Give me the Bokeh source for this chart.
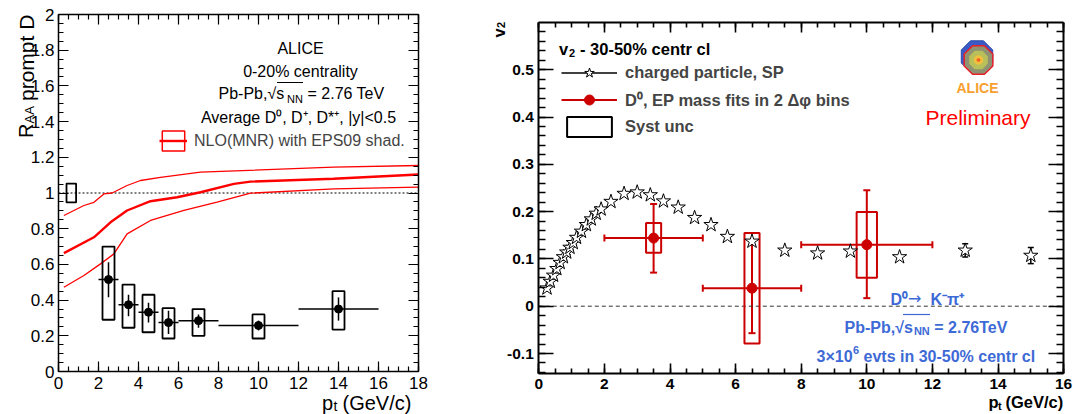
import math
from bokeh.plotting import figure
from bokeh.layouts import row
from bokeh.models import (Range1d, LinearAxis, SingleIntervalTicker, CustomJSTickFormatter,
                          Label, Whisker, TeeHead, ColumnDataSource, Legend, LegendItem, Arrow)
from bokeh.embed import file_html
from bokeh.resources import INLINE

NAN = float("nan")

# ---------------- Left panel: prompt D R_AA (0-20%) ----------------
d_pt = [2.5, 3.5, 4.5, 5.5, 7.0, 10.0, 14.0]
d_pt_lo = [2, 3, 4, 5, 6, 8, 12]
d_pt_hi = [3, 4, 5, 6, 8, 12, 16]
d_raa = [0.515, 0.374, 0.332, 0.274, 0.285, 0.258, 0.350]
d_stat_lo = [0.416, 0.310, 0.275, 0.210, 0.245, 0.230, 0.285]
d_stat_hi = [0.612, 0.430, 0.385, 0.340, 0.320, 0.285, 0.415]
d_syst_lo = [0.290, 0.245, 0.220, 0.185, 0.200, 0.185, 0.235]
d_syst_hi = [0.700, 0.487, 0.430, 0.355, 0.350, 0.320, 0.450]
norm_unc = 0.053

nlo_up_pt = [0.27, 1.27, 1.77, 2.27, 2.68, 3.43, 4.1, 5.1, 7.1, 13.75, 18.0]
nlo_up = [0.874, 0.930, 0.948, 0.995, 1.000, 1.042, 1.070, 1.088, 1.117, 1.145, 1.154]
nlo_c_pt = [0.27, 1.77, 2.6, 3.43, 4.6, 5.93, 7.1, 8.77, 9.6, 13.75, 18.0]
nlo_c = [0.663, 0.752, 0.836, 0.902, 0.954, 0.976, 1.004, 1.051, 1.064, 1.080, 1.104]
nlo_lo_pt = [0.27, 1.27, 2.1, 2.77, 3.43, 4.6, 6.27, 7.93, 9.6, 13.77, 18.0]
nlo_lo = [0.472, 0.538, 0.603, 0.659, 0.771, 0.846, 0.902, 0.949, 0.999, 1.023, 1.033]

# ---------------- Right panel: v2 30-50% ----------------
ch_pt = [0.25, 0.35, 0.45, 0.55, 0.65, 0.75, 0.85, 0.95, 1.05, 1.15, 1.3, 1.45, 1.6, 1.75, 1.9,
         2.2, 2.6, 3.0, 3.4, 3.8, 4.25, 4.75, 5.25, 5.75, 6.5, 7.5, 8.5, 9.5, 11.0, 13.0, 15.0]
ch_v2 = [0.038, 0.052, 0.065, 0.079, 0.092, 0.104, 0.114, 0.124, 0.134, 0.145, 0.158, 0.172, 0.184,
         0.196, 0.205, 0.221, 0.238, 0.241, 0.235, 0.222, 0.209, 0.187, 0.172, 0.147, 0.137, 0.118,
         0.112, 0.116, 0.104, 0.118, 0.107]
ch_err = [0, 0, 0, 0, 0, 0, 0, 0, 0, 0, 0, 0, 0, 0, 0, 0, 0, 0, 0, 0, 0, 0, 0, 0, 0, 0, 0, 0, 0,
          0.014, 0.017]

d0_pt = [3.5, 6.5, 10.0]
d0_pt_lo = [2.0, 5.0, 8.0]
d0_pt_hi = [5.0, 8.0, 12.0]
d0_v2 = [0.144, 0.038, 0.130]
d0_stat_lo = [0.071, -0.057, 0.017]
d0_stat_hi = [0.216, 0.139, 0.245]
d0_syst_lo = [0.113, -0.079, 0.060]
d0_syst_hi = [0.176, 0.155, 0.199]
d0_syst_halfwidth = [0.23, 0.23, 0.31]

# ---------------- styles ----------------
FONT = "Liberation Sans"
RED_D = "#cc0000"
RED_T = "#ff0000"
BLUE_T = "#3d6ad6"
W_TOTAL, H_TOTAL, SPLIT = 1073, 414, 430


def setup_axes(p, xb, yb, xint, xminor, yint, yminor, xtick, ytick, lw, size, style,
               xstand, ystand):
    """ROOT-like frame: four library axes pinned at the frame box, ticks pointing inside."""
    p.add_layout(LinearAxis(), "above")
    p.add_layout(LinearAxis(), "right")
    num = CustomJSTickFormatter(code="return String(Number(tick.toFixed(2)))")
    blank = CustomJSTickFormatter(code="return ''")
    xt = SingleIntervalTicker(interval=xint, num_minor_ticks=xminor)
    yt = SingleIntervalTicker(interval=yint, num_minor_ticks=yminor)
    groups = [(p.below, xt, xtick, True, xstand, yb[0], xb),
              (p.above, xt, xtick, False, 0, yb[1], xb),
              (p.left, yt, ytick, True, ystand, xb[0], yb),
              (p.right, yt, ytick, False, 0, xb[1], yb)]
    for axes, tk, (maj, mnr), primary, stand, loc, bnds in groups:
        for ax in axes:
            ax.fixed_location = loc
            ax.bounds = bnds
            ax.ticker = tk
            ax.axis_line_color = "black"
            ax.axis_line_width = lw
            ax.major_tick_in = maj
            ax.major_tick_out = 0
            ax.minor_tick_in = mnr
            ax.minor_tick_out = 0
            ax.major_tick_line_color = "black"
            ax.minor_tick_line_color = "black"
            ax.major_tick_line_width = lw * 0.8
            ax.minor_tick_line_width = lw * 0.8
            if primary:
                ax.formatter = num
                ax.major_label_text_font = FONT
                ax.major_label_text_font_size = f"{size}px"
                ax.major_label_text_font_style = style
                ax.major_label_text_color = "black"
                ax.major_label_standoff = stand
            else:
                ax.formatter = blank
                ax.major_label_text_font_size = "0px"
                ax.major_label_standoff = 0


def put(p, x, y, text, size, color="black", style="normal", align="left", angle=0.0, font=FONT):
    p.add_layout(Label(x=x, y=y, text=text, text_font=font, text_font_size=f"{size}px",
                       text_color=color, text_font_style=style, text_align=align,
                       text_baseline="alphabetic", angle=angle))


# ============ LEFT FIGURE (page x 0..430) ============
def lx(px):  # page pixel -> left data x
    return (px - 58.0) / 20.0


def ly(py):  # page pixel -> left data y
    return (371.0 - py) / 178.5


XB_L, YB_L = (0, 18), (0, 2)
pL = figure(width=SPLIT, height=H_TOTAL, x_range=Range1d(lx(0), lx(SPLIT)),
            y_range=Range1d(ly(H_TOTAL), ly(0)),
            min_border=0, min_border_left=0, min_border_right=0, min_border_top=0,
            min_border_bottom=0, output_backend="svg", toolbar_location=None)
pL.grid.visible = False
pL.outline_line_color = None
setup_axes(pL, XB_L, YB_L, 2, 4, 0.2, 4, (10, 5), (10, 5), 1.5, 17, "normal", 5, 4)

pL.segment(x0=[XB_L[0]], y0=[1.0], x1=[XB_L[1]], y1=[1.0], line_color="black", line_width=1,
           line_dash="2 2")

ul = pL.line(nlo_up_pt, nlo_up, line_color=RED_T, line_width=1.3)
cl = pL.line(nlo_c_pt, nlo_c, line_color=RED_T, line_width=2.4)
ll = pL.line(nlo_lo_pt, nlo_lo, line_color=RED_T, line_width=1.3)

NORM_X = (0.4, 0.88)
pL.quad(left=[NORM_X[0]], right=[NORM_X[1]], top=[1 + norm_unc], bottom=[1 - norm_unc],
        fill_color=None, line_color="black", line_width=1.8)

SYST_HW_L = 0.3
pL.quad(left=[x - SYST_HW_L for x in d_pt], right=[x + SYST_HW_L for x in d_pt],
        top=d_syst_hi, bottom=d_syst_lo, fill_color=None, line_color="black", line_width=1.8)
pL.segment(x0=d_pt_lo, y0=d_raa, x1=d_pt_hi, y1=d_raa, line_color="black", line_width=1.5)
pL.segment(x0=d_pt, y0=d_stat_lo, x1=d_pt, y1=d_stat_hi, line_color="black", line_width=1.5)
pL.scatter(d_pt, d_raa, marker="circle", size=8, fill_color="black", line_color="black")

nlo_box = pL.quad(left=[NAN], right=[NAN], top=[NAN], bottom=[NAN], fill_color=None,
                  line_color=RED_T, line_width=1.5)
legL = Legend(items=[LegendItem(label="NLO(MNR) with EPS09 shad.", renderers=[nlo_box, cl])],
              location=(159, 261), glyph_width=28, glyph_height=25, label_height=25,
              label_standoff=7, padding=0, margin=0, spacing=0,
              label_text_font=FONT, label_text_font_size="16px",
              border_line_color=None, background_fill_alpha=0)
pL.add_layout(legL)

put(pL, lx(300), ly(48.3), "ALICE", 16, align="center")
put(pL, lx(300), ly(70.7), "0-20% centrality", 16, align="center")
put(pL, lx(218), ly(93.3), "Pb-Pb,\u221as", 16)
put(pL, lx(286.5), ly(98), "NN", 11)
put(pL, lx(307), ly(93.3), "= 2.76 TeV", 16)
pL.add_layout(Arrow(end=None, x_start=lx(276.5), y_start=ly(82), x_end=lx(302.5), y_end=ly(82),
                    line_color="black", line_width=1))
put(pL, lx(298), ly(117), "Average D\u2070, D\u207a, D*\u207a, |y|<0.5", 16, align="center")

# axis titles
put(pL, lx(25.5), ly(137.5), "R", 20, angle=math.pi / 2)
put(pL, lx(28.5), ly(123), "AA", 13, angle=math.pi / 2)
put(pL, lx(25.5), ly(100.5), "prompt D", 21, angle=math.pi / 2)
put(pL, lx(321.5), ly(402), "p", 20)
put(pL, lx(333), ly(405.5), "t", 14)
put(pL, lx(342), ly(402), "(GeV/c)", 20)

# ============ RIGHT FIGURE (page x 430..1073) ============
R_SCALE = 32.8  # px per pt unit (0 at page 538.3)


def rx(px):  # page pixel -> right data x
    return (px - 538.3) / R_SCALE


def ry(py):  # page pixel -> right data y
    return (305.7 - py) / 473.0


XB_R, YB_R = (0, 16), (-0.142, 0.6)
pR = figure(width=W_TOTAL - SPLIT, height=H_TOTAL,
            x_range=Range1d(rx(SPLIT), rx(W_TOTAL)), y_range=Range1d(ry(H_TOTAL), ry(0)),
            min_border=0, min_border_left=0, min_border_right=0, min_border_top=0,
            min_border_bottom=0, output_backend="svg", toolbar_location=None)
pR.grid.visible = False
pR.outline_line_color = None
setup_axes(pR, XB_R, YB_R, 2, 4, 0.1, 5, (10, 5), (15, 7), 2, 15.5, "bold", 6, 5)

pR.segment(x0=[XB_R[0]], y0=[0.0], x1=[XB_R[1]], y1=[0.0], line_color="#333333", line_width=1,
           line_dash="4 3")

pR.quad(left=[x - w for x, w in zip(d0_pt, d0_syst_halfwidth)],
        right=[x + w for x, w in zip(d0_pt, d0_syst_halfwidth)],
        top=d0_syst_hi, bottom=d0_syst_lo, fill_color=None, line_color=RED_D, line_width=2)

ch_bar = [(x, v - e, v + e) for x, v, e in zip(ch_pt, ch_v2, ch_err) if e > 0]
ch_src = ColumnDataSource(dict(x=[b[0] for b in ch_bar], lo=[b[1] for b in ch_bar],
                               hi=[b[2] for b in ch_bar]))
pR.add_layout(Whisker(source=ch_src, base="x", lower="lo", upper="hi", dimension="height",
                      line_color="black", line_width=1.5,
                      upper_head=TeeHead(size=6, line_color="black", line_width=1.5),
                      lower_head=TeeHead(size=6, line_color="black", line_width=1.5)))

d0_src = ColumnDataSource(dict(x=d0_pt, y=d0_v2, xlo=d0_pt_lo, xhi=d0_pt_hi,
                               lo=d0_stat_lo, hi=d0_stat_hi))
pR.add_layout(Whisker(source=d0_src, base="x", lower="lo", upper="hi", dimension="height",
                      line_color=RED_D, line_width=2,
                      upper_head=TeeHead(size=7, line_color=RED_D, line_width=2),
                      lower_head=TeeHead(size=7, line_color=RED_D, line_width=2)))
pR.add_layout(Whisker(source=d0_src, base="y", lower="xlo", upper="xhi", dimension="width",
                      line_color=RED_D, line_width=2,
                      upper_head=TeeHead(size=7, line_color=RED_D, line_width=2),
                      lower_head=TeeHead(size=7, line_color=RED_D, line_width=2)))

stars = pR.scatter(ch_pt, ch_v2, marker="star", size=15, fill_color="white",
                   line_color="black", line_width=1)
dots = pR.scatter("x", "y", source=d0_src, marker="circle", size=10, fill_color=RED_D,
                  line_color=RED_D)

lk = pR.line([NAN], [NAN], line_color="black", line_width=1.5)
lr = pR.line([NAN], [NAN], line_color=RED_D, line_width=2)
bx = pR.quad(left=[NAN], right=[NAN], top=[NAN], bottom=[NAN], fill_color=None,
             line_color="black", line_width=2)
legR = Legend(items=[LegendItem(label="charged particle, SP", renderers=[lk, stars]),
                     LegendItem(label="D\u2070, EP mass fits in 2 \u0394\u03c6 bins", renderers=[lr, dots]),
                     LegendItem(label="Syst unc", renderers=[bx])],
              location=(131, 275), glyph_width=56, glyph_height=25, label_height=25,
              label_standoff=8, padding=0, margin=0, spacing=2,
              label_text_font=FONT, label_text_font_size="16.5px", label_text_font_style="bold",
              border_line_color=None, background_fill_alpha=0)
pR.add_layout(legR)

put(pR, rx(558.5), ry(48), "v", 16.5, style="bold")
put(pR, rx(568.5), ry(52.5), "2", 11, style="bold")
put(pR, rx(579.5), ry(48), "- 30-50% centr cl", 16.5, style="bold")

put(pR, rx(977.5), ry(117), "Preliminary", 21, color=RED_T, align="center")

# ALICE logo (decorative)
LOGO_C = (978.0, 59.5)


def octagon(cx, cy, r):
    angs = [math.radians(22.5 + 45 * k) for k in range(8)]
    return ([rx(cx + r * math.cos(a)) for a in angs], [ry(cy - r * math.sin(a)) for a in angs])


xs, ys = octagon(LOGO_C[0] - 1.5, LOGO_C[1] - 3.5, 17)
pR.patch(xs, ys, fill_color="#3a5bc7", line_color="#2c47a8", line_width=1)
xs, ys = octagon(LOGO_C[0], LOGO_C[1], 15.5)
pR.patch(xs, ys, fill_color="#8f9272", line_color="#e8202a", line_width=1.5)
xs, ys = octagon(LOGO_C[0], LOGO_C[1], 10)
pR.patch(xs, ys, fill_color="#b9c05a", line_color=None)
xs, ys = octagon(LOGO_C[0], LOGO_C[1], 5)
pR.patch(xs, ys, fill_color="#f0c040", line_color=None)
xs, ys = octagon(LOGO_C[0], LOGO_C[1], 2)
pR.patch(xs, ys, fill_color="#f06020", line_color=None)
put(pR, rx(977), ry(87), "ALICE", 14, color="#f7a030", style="bold", align="center")

# blue annotation text
put(pR, rx(890), ry(299), "D\u2070", 16, color=BLUE_T, style="bold")
put(pR, rx(907.5), ry(298), "\u2192", 16, color=BLUE_T, font="DejaVu Sans")
put(pR, rx(930), ry(299), "K\u207b\u03c0\u207a", 16, color=BLUE_T, style="bold")
put(pR, rx(844), ry(326.7), "Pb-Pb,\u221as", 16, color=BLUE_T, style="bold")
put(pR, rx(913.4), ry(330.5), "NN", 11, color=BLUE_T, style="bold")
put(pR, rx(933.8), ry(326.7), "= 2.76TeV", 16, color=BLUE_T, style="bold")
pR.add_layout(Arrow(end=None, x_start=rx(902.5), y_start=ry(314), x_end=rx(929.5),
                    y_end=ry(314), line_color=BLUE_T, line_width=1.2))
put(pR, rx(816), ry(356), "3\u00d710", 16, color=BLUE_T, style="bold")
put(pR, rx(852.5), ry(349), "6", 11, color=BLUE_T, style="bold")
put(pR, rx(863), ry(356), "evts in 30-50% centr cl", 16, color=BLUE_T, style="bold")

# axis titles
put(pR, rx(498.5), ry(37), "v", 16.5, style="bold", angle=math.pi / 2)
put(pR, rx(500), ry(27.5), "2", 11, style="bold", angle=math.pi / 2)
put(pR, rx(988), ry(401), "p", 16.5, style="bold")
put(pR, rx(997.5), ry(405), "t", 11, style="bold")
put(pR, rx(1005), ry(401), "(GeV/c)", 16.5, style="bold")

layout = row(pL, pR)
open("out.html", "w").write(file_html(layout, INLINE))
